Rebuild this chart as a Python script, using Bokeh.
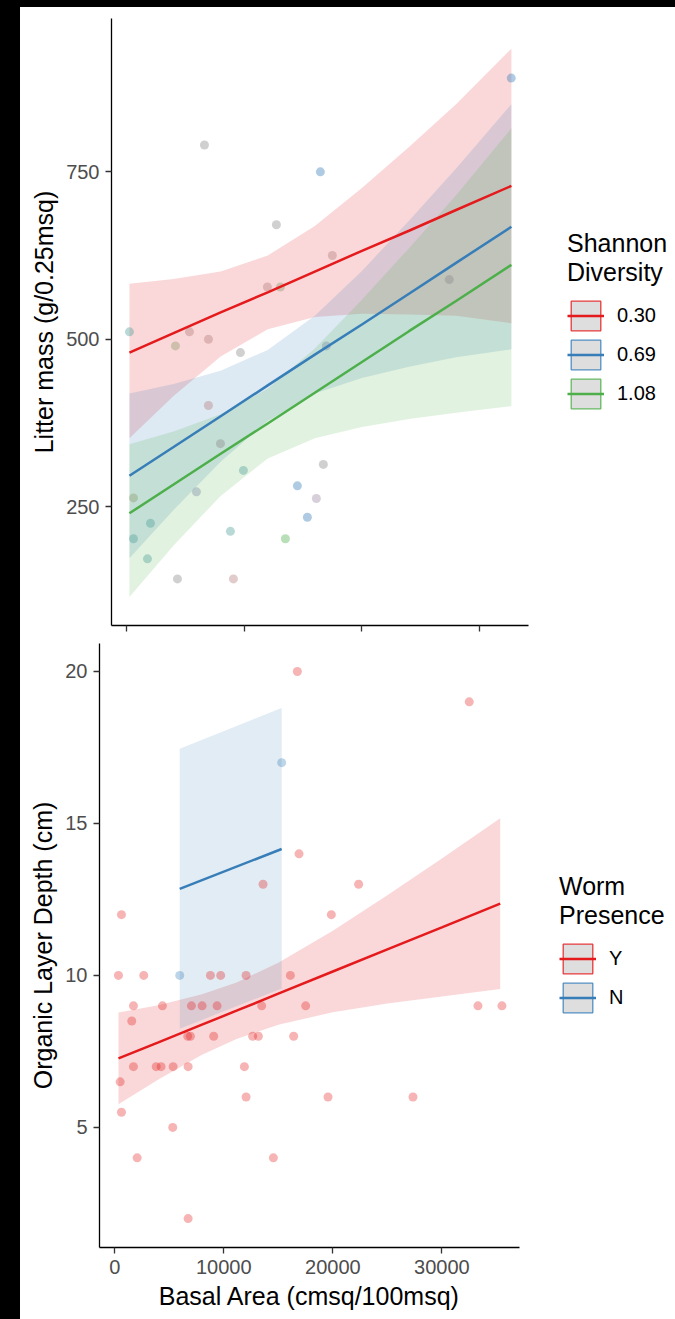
import numpy as np
from bokeh.plotting import figure
from bokeh.models import Legend, LegendItem, Range1d, FixedTicker, InlineStyleSheet
from bokeh.layouts import column, row
from bokeh.embed import file_html
from bokeh.resources import INLINE

FONT = "Liberation Sans"
RED, BLUE, GREEN = "#E41A1C", "#377EB8", "#4DAF4A"

# ---------------- Top panel: litter mass vs basal area ----------------
litter_basal = [255, 594, 594, 1783, 2038, 4160, 4330, 5349, 5943, 6622, 6962, 6962,
                7981, 8830, 9084, 9679, 9933, 11971, 12735, 13075, 13499, 14518, 15367,
                16131, 16471, 16725, 16980, 17489, 27423, 32687]
litter_mass = [511, 263, 202, 172, 225, 490, 142, 511, 272, 790, 500, 401, 344, 213, 142,
               480, 304, 578, 671, 578, 202, 281, 234, 262, 750, 313, 490, 625, 589, 890]
litter_tone = ["teal", "olive", "teal", "teal", "teal", "olive", "grey", "rose", "slate",
               "grey", "rose", "rose", "grey", "teal", "rose", "grey", "teal", "rose", "grey",
               "olive", "green", "blue", "blue", "lilac", "blue", "grey", "slate", "rose",
               "grey", "blue"]
tone_colors = {"grey": "#8a8a8a", "teal": "#4f9f99", "olive": "#8a9a6a", "rose": "#b47c7c",
               "slate": "#7d8ea6", "blue": "#377EB8", "green": "#4DAF4A", "lilac": "#9a8aa6"}

shannon_labels = ["0.30", "0.69", "1.08"]
fit_basal = [250, 4000, 8000, 12000, 16000, 20000, 24000, 28000, 32700]
fit_030 = [480, 509, 540, 570, 601, 632, 662, 693, 729]
upr_030 = [583, 590, 601, 625, 669, 726, 787, 851, 934]
lwr_030 = [352, 415, 474, 515, 533, 538, 537, 535, 524]
fit_069 = [296, 339, 385, 431, 477, 522, 568, 614, 668]
upr_069 = [419, 433, 453, 484, 535, 602, 677, 755, 851]
lwr_069 = [173, 245, 317, 378, 419, 442, 459, 473, 485]
fit_108 = [240, 283, 329, 374, 420, 466, 512, 557, 611]
upr_108 = [343, 362, 388, 426, 486, 559, 636, 715, 815]
lwr_108 = [115, 192, 266, 322, 352, 369, 381, 390, 400]

# ---------------- Bottom panel: organic layer depth ----------------
worm_y_basal = [16746, 32512, 16900, 13600, 22366, 614, 19863,
                339, 2659, 8772, 9716, 12044, 16105,
                1714, 4372, 7030, 8011, 9386, 13474, 17508, 33310, 35510,
                1559,
                6691, 6939, 9074, 12649, 13171, 16407,
                1714, 3800, 4250, 5352, 6728, 11888,
                493,
                12044, 19557, 27351,
                614, 5316, 2053, 14547, 6728]
worm_y_depth = [20, 19, 14, 13, 13, 12, 12,
                10, 10, 10, 10, 10, 10,
                9, 9, 9, 9, 9, 9, 9, 9, 9,
                8.5,
                8, 8, 8, 8, 8, 8,
                7, 7, 7, 7, 7, 7,
                6.5,
                6, 6, 6,
                5.5, 5, 4, 4, 2]
worm_n_basal = [5958, 15307]
worm_n_depth = [10, 17]

worm_labels = ["Y", "N"]
fitY_basal = [340, 4000, 8000, 11170, 15000, 20000, 25000, 30000, 35350]
fitY = [7.27, 7.80, 8.38, 8.84, 9.40, 10.13, 10.86, 11.58, 12.36]
uprY = [8.78, 9.02, 9.38, 9.77, 10.42, 11.47, 12.64, 13.85, 15.17]
lwrY = [5.76, 6.58, 7.39, 7.91, 8.38, 8.79, 9.08, 9.31, 9.55]
fitN_basal = [5958, 15307]
fitN = [12.85, 14.16]
uprN = [17.46, 18.8]
lwrN = [8.25, 9.57]


def style_axes(p):
    for ax in (p.xaxis[0], p.yaxis[0]):
        ax.axis_line_color = "black"
        ax.axis_line_width = 1.3
        ax.major_tick_line_color = "#333333"
        ax.major_tick_line_width = 1.3
        ax.major_tick_out = 6
        ax.major_tick_in = 0
        ax.minor_tick_line_color = None
        ax.major_label_text_font = FONT
        ax.major_label_text_font_size = "20px"
        ax.major_label_text_color = "#4D4D4D"
        ax.axis_label_text_font = FONT
        ax.axis_label_text_font_size = "25px"
        ax.axis_label_text_font_style = "normal"
        ax.axis_label_text_color = "black"
        ax.major_label_standoff = 6
        ax.axis_label_standoff = 5
    p.grid.visible = False
    p.outline_line_color = None
    p.background_fill_color = "white"
    p.border_fill_color = "white"
    p.frame_align = False


def legend_fig(width, height, title, labels, colors, loc):
    lf = figure(width=width, height=height, x_range=Range1d(0, 1), y_range=Range1d(0, 1),
                x_axis_type=None, y_axis_type=None, output_backend="svg",
                toolbar_location=None, min_border=0)
    lf.grid.visible = False
    lf.outline_line_color = None
    lf.frame_align = False
    items = []
    for lab, c in zip(labels, colors):
        # key swatches drawn only inside the legend (their data sit outside the visible range)
        box = lf.patch(x=[5, 6, 6], y=[5, 5, 6], fill_color="#DEDEDE", line_color=c,
                       line_width=1.3, line_alpha=0.85)
        ln = lf.line(x=[5, 6], y=[5, 5], line_color=c, line_width=2.5)
        items.append(LegendItem(label=lab, renderers=[box, ln]))
    leg = Legend(items=items, location=loc, title=title,
                 title_text_font=FONT, title_text_font_size="25px", title_text_font_style="normal",
                 title_text_color="black", title_standoff=10,
                 label_text_font=FONT, label_text_font_size="20px", label_text_color="black",
                 label_standoff=13, glyph_width=37, glyph_height=37, label_height=37,
                 spacing=2, padding=0, margin=0, border_line_color=None,
                 background_fill_alpha=0)
    lf.add_layout(leg, "center")
    return lf


# ---- top figure: frame x 111..528, y 18..625 ----
p1 = figure(width=533, height=637, x_range=Range1d(-1273, 34152), y_range=Range1d(72.4, 979),
            output_backend="svg", toolbar_location=None,
            min_border_left=111, min_border_right=5, min_border_top=18, min_border_bottom=12)
style_axes(p1)
p1.xaxis.ticker = FixedTicker(ticks=[0, 10000, 20000, 30000])
p1.xaxis.major_label_text_font_size = "1px"
p1.xaxis.major_label_text_alpha = 0
p1.xaxis.major_label_standoff = 0
p1.yaxis.ticker = FixedTicker(ticks=[250, 500, 750])
p1.yaxis.axis_label = "Litter mass (g/0.25msq)"

for up, lo, c in [(upr_030, lwr_030, RED), (upr_069, lwr_069, BLUE), (upr_108, lwr_108, GREEN)]:
    p1.varea(x=fit_basal, y1=lo, y2=up, fill_color=c, fill_alpha=0.17)
p1.scatter(x=litter_basal, y=litter_mass, size=9,
           fill_color=[tone_colors[t] for t in litter_tone], fill_alpha=0.4, line_color=None)
for f, c in [(fit_030, RED), (fit_069, BLUE), (fit_108, GREEN)]:
    p1.line(x=fit_basal, y=f, line_color=c, line_width=2.5)
lf1 = legend_fig(137, 637, "Shannon\nDiversity", shannon_labels, [RED, BLUE, GREEN], (34, 225))

# ---- bottom figure: frame x 99..519, y 643..1247 ----
p2 = figure(width=524, height=680, x_range=Range1d(-1400, 37120), y_range=Range1d(1.05, 20.92),
            output_backend="svg", toolbar_location=None,
            min_border_left=99, min_border_right=5, min_border_top=6, min_border_bottom=70)
style_axes(p2)
p2.xaxis.ticker = FixedTicker(ticks=[0, 10000, 20000, 30000])
p2.yaxis.ticker = FixedTicker(ticks=[5, 10, 15, 20])
p2.xaxis.axis_label = "Basal Area (cmsq/100msq)"
p2.yaxis.axis_label = "Organic Layer Depth (cm)"

p2.varea(x=fitY_basal, y1=lwrY, y2=uprY, fill_color=RED, fill_alpha=0.17)
p2.varea(x=fitN_basal, y1=lwrN, y2=uprN, fill_color=BLUE, fill_alpha=0.15)
p2.scatter(x=worm_y_basal, y=worm_y_depth, size=9, fill_color=RED, fill_alpha=0.33, line_color=None)
p2.scatter(x=worm_n_basal, y=worm_n_depth, size=9, fill_color=BLUE, fill_alpha=0.33, line_color=None)
p2.line(x=fitY_basal, y=fitY, line_color=RED, line_width=2.5)
p2.line(x=fitN_basal, y=fitN, line_color=BLUE, line_width=2.5)
lf2 = legend_fig(146, 680, "Worm\nPresence", worm_labels, [RED, BLUE], (35, 301))

css = InlineStyleSheet(css="""
:host::before { content: ''; position: fixed; left: 0; top: 0; width: 20px; height: 100vh; background: black; z-index: 5; }
:host::after { content: ''; position: fixed; left: 0; top: 0; width: 100vw; height: 7px; background: black; z-index: 5; }
""")
layout = column(row(p1, lf1, spacing=0), row(p2, lf2, spacing=0), spacing=0, stylesheets=[css])

open("out.html", "w").write(file_html(layout, INLINE))
